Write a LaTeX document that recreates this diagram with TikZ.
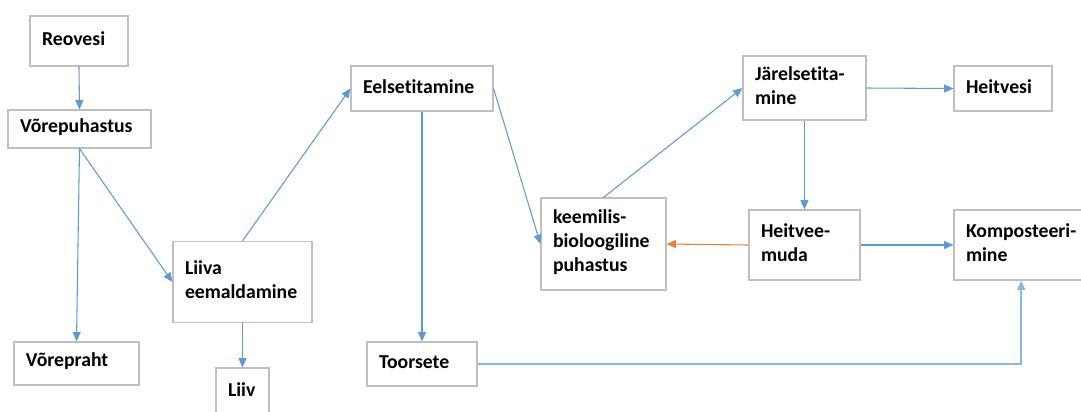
\documentclass[tikz,border=0pt]{standalone}
\usepackage{fontspec}
\setmainfont{Carlito}[Ligatures=NoCommon]
\usetikzlibrary{arrows.meta,calc}
\definecolor{edge}{HTML}{BFBFBF}
\definecolor{flow}{HTML}{5B9BD5}
\definecolor{back}{HTML}{ED7D31}
\tikzset{
  box/.style n args={2}{draw=edge,line width=0.9pt,fill=white,align=left,
    inner xsep=9pt,inner ysep=0pt,text width=#1*0.75pt-18pt,minimum height=#2*0.75pt,
    execute at end node={\par\vspace*{3pt}},font=\fontsize{14.8}{18}\selectfont\bfseries},
  ar/.style={-{Triangle[length=7pt,width=6pt]},line width=0.8pt,draw=flow},
  orar/.style={ar,draw=back},
}
\begin{document}
\begin{tikzpicture}[x=0.75pt,y=-0.75pt]
\useasboundingbox (0,0) rectangle (1081,411);
% boxes, centres in px
\node[box={98}{50}]   (reo)   at (79,41)     {Reovesi};
\node[box={143}{38}]  (vor)   at (79.5,129)  {Võrepuhastus};
\node[box={125}{43}]  (vpr)   at (76.5,363.5){Võrepraht};
\node[box={139}{81}]  (liiva) at (242.5,282) {Liiva\\eemaldamine};
\node[box={53}{47}]   (liiv)  at (242.5,391.5){Liiv};
\node[box={142}{45}]  (eel)   at (422,88.5)  {Eelsetitamine};
\node[box={110}{44}]  (toor)  at (422,364)   {Toorsete};
\node[box={125}{92}]  (keem)  at (603.5,244) {keemilis-\\bioloogiline\\puhastus};
\node[box={123}{64}]  (jar)   at (804.5,88)  {Järelsetita-\\mine};
\node[box={98}{45}]   (hv)    at (1003,88.5) {Heitvesi};
\node[box={111}{70}]  (hm)    at (804.5,245) {Heitvee-\\muda};
\node[box={141}{70}]  (komp)  at (1024.5,245){Komposteeri-\\mine};
% connectors
\draw[ar] (reo.south) -- (vor.north);
\draw[ar] (vor.south) -- (vpr.north);
\draw[ar] (vor.south) -- (liiva.west);
\draw[ar] (liiva.north) -- (eel.west);
\draw[ar] (liiva.south) -- (liiv.north);
\draw[ar] (eel.south) -- (toor.north);
\draw[ar] (eel.east) -- (keem.west);
\draw[ar] (keem.north) -- (jar.west);
\draw[ar] (jar.east) -- (hv.west);
\draw[ar] (jar.south) -- (hm.north);
\draw[orar] (hm.west) -- (keem.east);
\draw[ar] (hm.east) -- (komp.west);
\draw[ar,line width=1.4pt,draw=flow!70] (toor.east) -| ([xshift=-2.5]komp.south);
\end{tikzpicture}
\end{document}
